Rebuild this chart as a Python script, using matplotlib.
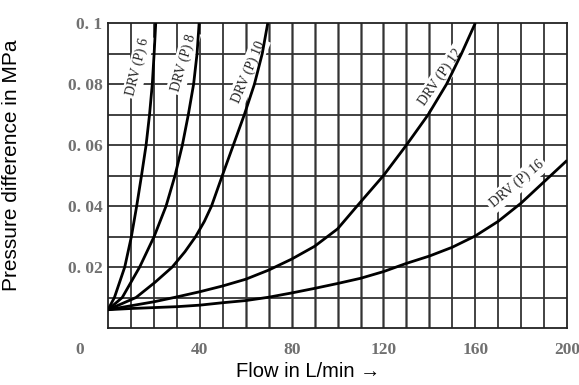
import matplotlib.pyplot as plt
import matplotlib.transforms as mtransforms

# valores (vazao em L/min, pressao em MPa)
p_6 = [0.006, 0.01, 0.02, 0.03, 0.04, 0.05, 0.06, 0.07, 0.08, 0.09, 0.1]
q_6 = [0, 2.8, 7.3, 10.2, 12.5, 14.6, 16.6, 18.1, 19.3, 20.1, 20.8]

p_8 = [0.006, 0.01, 0.02, 0.03, 0.04, 0.05, 0.06, 0.07, 0.08, 0.09, 0.1]
q_8 = [0, 6.2, 13.8, 20.1, 25.3, 29.2, 32.4, 35.0, 37.3, 38.8, 39.7]

p_10 = [0.006, 0.01, 0.015, 0.02, 0.025, 0.03, 0.035, 0.04, 0.05, 0.06, 0.07, 0.08, 0.09, 0.1]
q_10 = [0, 12.2, 20.5, 28, 33.5, 38.2, 42, 45.1, 49.8, 54.6, 59.4, 63.8, 67.2, 69.6]

q_12 = [0, 10, 20, 30, 40, 50, 60, 70, 80, 90, 100, 108.5, 120, 130, 139.5, 147.5, 154, 160]
p_12 = [0.006, 0.0073, 0.0086, 0.0102, 0.0119, 0.0138, 0.016, 0.019, 0.0226, 0.0268,
        0.0325, 0.04, 0.05, 0.06, 0.07, 0.08, 0.09, 0.1]

q_16 = [0, 10, 20, 30, 40, 50, 60, 70, 80, 90, 100, 110, 120, 130, 140, 150, 160, 170, 180, 190, 200]
p_16 = [0.006, 0.0064, 0.0067, 0.007, 0.0075, 0.0083, 0.009, 0.0101, 0.0115, 0.013, 0.0146,
        0.0163, 0.0185, 0.0212, 0.0236, 0.0265, 0.0302, 0.035, 0.041, 0.048, 0.055]

curvas = [(q_6, p_6), (q_8, p_8), (q_10, p_10), (q_12, p_12), (q_16, p_16)]

# rotulos das curvas: texto, vazao, pressao, angulo
rotulos = ["DRV (P) 6", "DRV (P) 8", "DRV (P) 10", "DRV (P) 12", "DRV (P) 16"]
rotulo_q = [13.1, 32.8, 61.1, 145, 178]
rotulo_p = [0.0856, 0.0869, 0.084, 0.0823, 0.0472]
rotulo_ang = [76, 74, 67, 55, 40]

x_ticks = [0, 40, 80, 120, 160, 200]
y_ticks = [0.02, 0.04, 0.06, 0.08, 0.1]
y_labels = ["0. 02", "0. 04", "0. 06", "0. 08", "0. 1"]

fig = plt.figure(figsize=(5.79, 3.85), dpi=100)
ax = fig.add_axes([0.1865, 0.148, 0.793, 0.792])

# grade
for x in range(10, 200, 10):
    if 60 <= x <= 140:
        ax.axvline(x, color="#777777", lw=2.0, zorder=1)
        ax.axvline(x, color="#333333", lw=0.8, zorder=1)
    else:
        ax.axvline(x, color="#222222", lw=1.2, zorder=1)
for i in range(1, 10):
    ax.axhline(i * 0.01, color="#333333", lw=1.3, zorder=1)

for q, p in curvas:
    ax.plot(q, p, color="black", lw=2.0, zorder=3, solid_capstyle="butt")

for texto, q, p, ang in zip(rotulos, rotulo_q, rotulo_p, rotulo_ang):
    ax.text(q, p, texto, rotation=ang, ha="center", va="center",
            family="Liberation Serif", fontsize=10, color="#222222",
            bbox=dict(fc="white", ec="none", pad=2.0), zorder=2)

ax.set_xlim(0, 200)
ax.set_ylim(0, 0.1)
ax.set_xticks(x_ticks)
ax.set_xticklabels([str(v) for v in x_ticks])
ax.set_yticks(y_ticks)
ax.set_yticklabels(y_labels)
ax.tick_params(length=0, labelsize=12.5, labelcolor="#707070", pad=4)
ax.tick_params(axis="x", pad=10)
for lbl in ax.get_xticklabels() + ax.get_yticklabels():
    lbl.set_family("Liberation Serif")
    lbl.set_weight("bold")

# o "0" fica deslocado para a esquerda no original
desloc = mtransforms.ScaledTranslation(-28 / 100, 0, fig.dpi_scale_trans)
lbl0 = ax.get_xticklabels()[0]
lbl0.set_transform(lbl0.get_transform() + desloc)

for s in ax.spines.values():
    s.set_color("#222222")
    s.set_linewidth(1.3)

ax.set_xlabel("Flow in L/min \u2192", family="Liberation Sans", fontsize=14.5)
ax.set_ylabel("Pressure difference in MPa", family="Liberation Sans", fontsize=15)
ax.xaxis.set_label_coords(0.435, -0.11)
ax.yaxis.set_label_coords(-0.19, 0.534)

fig.savefig("out.png", dpi=100)
